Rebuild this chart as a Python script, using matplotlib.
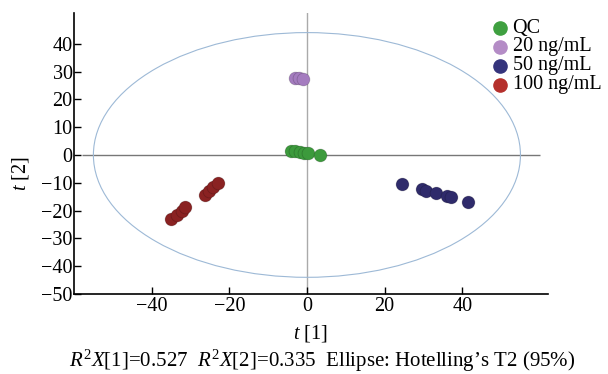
import numpy as np
import matplotlib.pyplot as plt
from matplotlib.patches import Ellipse
from matplotlib.lines import Line2D

plt.rcParams['font.family'] = ['Liberation Serif', 'DejaVu Serif']
plt.rcParams['mathtext.fontset'] = 'custom'
plt.rcParams['mathtext.rm'] = 'Liberation Serif'
plt.rcParams['mathtext.it'] = 'Liberation Serif:italic'

# score values
qc_t1 = [-4.2, -3.1, -1.8, -0.8, 0.3, 3.3]
qc_t2 = [1.5, 1.3, 1.1, 0.8, 0.6, 0.1]
g20_t1 = [-3.1, -2.0, -0.9]
g20_t2 = [27.8, 27.5, 27.3]
g50_t1 = [24.5, 29.7, 30.7, 33.3, 36.2, 37.1, 41.5]
g50_t2 = [-10.4, -12.4, -13.1, -13.8, -14.7, -15.2, -17.0]
g100_t1 = [-34.9, -33.4, -32.1, -31.3, -26.3, -25.3, -24.2, -23.0]
g100_t2 = [-23.1, -21.5, -20.0, -18.8, -14.4, -12.8, -11.4, -10.0]

labels = ['QC', '20 ng/mL', '50 ng/mL', '100 ng/mL']
point_colors = ['#3c9a3c', '#a47cbf', '#2f2b6b', '#8a2222']
legend_colors = ['#3fa040', '#b48cc6', '#35347c', '#b5302c']

# Hotelling T2 ellipse semi-axes
ell_a, ell_b = 55, 44

fs = 14.5

fig = plt.figure(figsize=(6.08, 3.74), dpi=100)
ax = fig.add_axes([0.1217, 0.2139, 0.779, 0.751])

ax.hlines(0, -58, 60, color='#777777', lw=1.0, zorder=1)
ax.axvline(0, color='#aaaaaa', lw=1.0, zorder=1)
ax.add_patch(Ellipse((0, 0), 2 * ell_a, 2 * ell_b, fill=False,
                     edgecolor='#9db9d6', lw=0.8, zorder=1))

groups = [(qc_t1, qc_t2), (g20_t1, g20_t2), (g50_t1, g50_t2), (g100_t1, g100_t2)]
for (xs, ys), c in zip(groups, point_colors):
    ax.scatter(xs, ys, s=85, color=c, edgecolors='#00000030', linewidths=0.6, zorder=3)

ax.set_xlim(-60, 62)
ax.set_ylim(-50, 51)
ax.set_xticks([-40, -20, 0, 20, 40])
ax.set_yticks(np.arange(-50, 41, 10))
ax.set_yticklabels(['\u221250', '\u221240', '\u221230', '\u221220', '\u221210', '0',
                    '10', '20', '30', '40'])
ax.set_xticklabels(['\u221240', '\u221220', '0', '20', '40'])
ax.tick_params(direction='in', length=5, width=1, labelsize=fs, pad=2)
ax.tick_params(axis='y', pad=1)
for s in ['top', 'right']:
    ax.spines[s].set_visible(False)
for s in ['left', 'bottom']:
    ax.spines[s].set_linewidth(1.2)

ax.set_xlabel(r'$t$ [1]', fontsize=fs)
ax.set_ylabel(r'$t$ [2]', fontsize=fs)
ax.xaxis.set_label_coords(0.498, -0.139)
ax.yaxis.set_label_coords(-0.112, 0.43)
ax.xaxis.label.set_va('center')
ax.yaxis.label.set_va('center')

# legend drawn by hand: rows are tighter than fig.legend allows
row_y = 0.925
for lab, c in zip(labels, legend_colors):
    fig.add_artist(Line2D([0.822], [row_y], marker='o', ls='', color=c,
                          markersize=9.5, transform=fig.transFigure))
    fig.text(0.843, row_y, lab, ha='left', va='center', fontsize=fs)
    row_y -= 0.0505

fig.text(0.53, 0.034, r'$R^2X$[1]=0.527  $R^2X$[2]=0.335  Ellipse: Hotelling’s T2 (95%)',
         ha='center', va='center', fontsize=15)

fig.savefig('out.png', dpi=100)
